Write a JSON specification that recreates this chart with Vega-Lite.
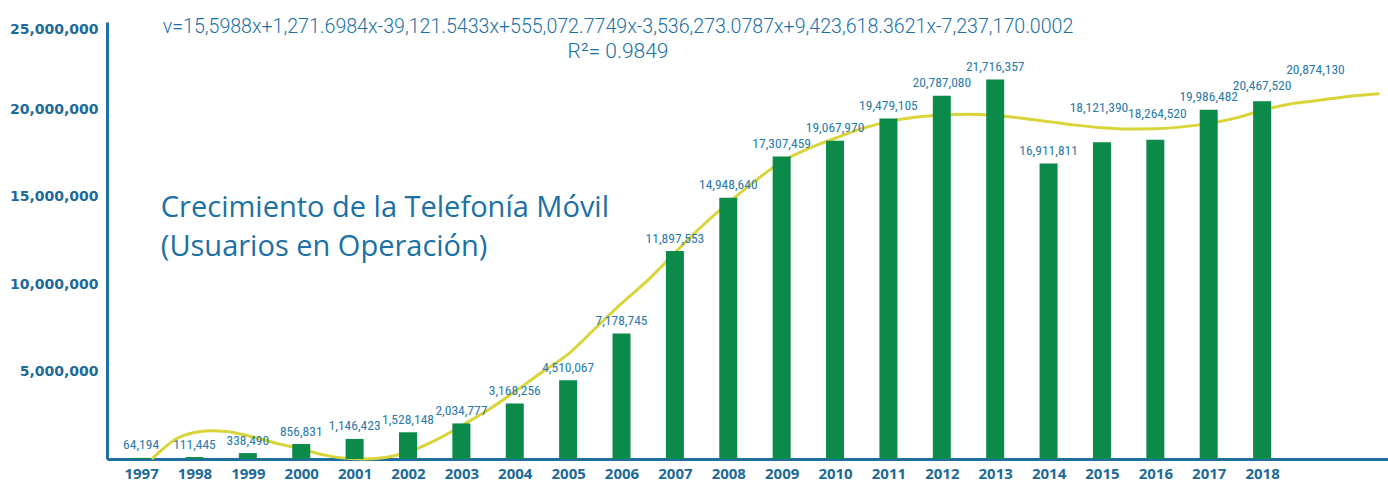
{
  "$schema": "https://vega.github.io/schema/vega-lite/v6.json",
  "width": 1281,
  "height": 437,
  "autosize": "none",
  "padding": {"left": 107, "top": 22, "right": 0, "bottom": 22},
  "background": "white",
  "config": {"view": {"stroke": null}},
  "datasets": {
    "users": [
      {"year": 1997, "users": 64194, "bar": 64194},
      {"year": 1998, "users": 111445, "bar": 111445},
      {"year": 1999, "users": 338490, "bar": 338490},
      {"year": 2000, "users": 856831, "bar": 856831},
      {"year": 2001, "users": 1146423, "bar": 1146423},
      {"year": 2002, "users": 1528148, "bar": 1528148},
      {"year": 2003, "users": 2034777, "bar": 2034777},
      {"year": 2004, "users": 3168256, "bar": 3168256},
      {"year": 2005, "users": 4510067, "bar": 4510067},
      {"year": 2006, "users": 7178745, "bar": 7178745},
      {"year": 2007, "users": 11897553, "bar": 11897553},
      {"year": 2008, "users": 14948640, "bar": 14948640},
      {"year": 2009, "users": 17307459, "bar": 17307459},
      {"year": 2010, "users": 19067970, "bar": 18200000},
      {"year": 2011, "users": 19479105, "bar": 19479105},
      {"year": 2012, "users": 20787080, "bar": 20787080},
      {"year": 2013, "users": 21716357, "bar": 21716357},
      {"year": 2014, "users": 16911811, "bar": 16911811},
      {"year": 2015, "users": 18121390, "bar": 18121390},
      {"year": 2016, "users": 18264520, "bar": 18264520},
      {"year": 2017, "users": 19986482, "bar": 19986482},
      {"year": 2018, "users": 20467520, "bar": 20467520},
      {"year": 2019, "users": 20874130, "bar": null}
    ],
    "trend": [
      {"t": 1997.2, "v": 0},
      {"t": 1997.4, "v": 550000},
      {"t": 1997.6, "v": 1050000},
      {"t": 1997.8, "v": 1350000},
      {"t": 1998.0, "v": 1520000},
      {"t": 1998.3, "v": 1620000},
      {"t": 1998.6, "v": 1580000},
      {"t": 1999.0, "v": 1330000},
      {"t": 1999.3, "v": 1100000},
      {"t": 1999.6, "v": 850000},
      {"t": 2000.0, "v": 580000},
      {"t": 2000.4, "v": 250000},
      {"t": 2000.8, "v": 50000},
      {"t": 2001.2, "v": 0},
      {"t": 2001.6, "v": 100000},
      {"t": 2002.0, "v": 400000},
      {"t": 2002.5, "v": 1050000},
      {"t": 2003.0, "v": 1900000},
      {"t": 2003.5, "v": 2800000},
      {"t": 2004.0, "v": 3850000},
      {"t": 2004.5, "v": 4950000},
      {"t": 2005.0, "v": 6000000},
      {"t": 2005.5, "v": 7450000},
      {"t": 2006.0, "v": 8900000},
      {"t": 2006.5, "v": 10250000},
      {"t": 2007.0, "v": 11800000},
      {"t": 2007.5, "v": 13300000},
      {"t": 2008.0, "v": 14650000},
      {"t": 2008.5, "v": 15900000},
      {"t": 2009.0, "v": 17000000},
      {"t": 2009.5, "v": 17750000},
      {"t": 2010.0, "v": 18350000},
      {"t": 2010.5, "v": 18900000},
      {"t": 2011.0, "v": 19300000},
      {"t": 2011.5, "v": 19550000},
      {"t": 2012.0, "v": 19680000},
      {"t": 2012.5, "v": 19720000},
      {"t": 2013.0, "v": 19650000},
      {"t": 2013.5, "v": 19500000},
      {"t": 2014.0, "v": 19300000},
      {"t": 2014.5, "v": 19100000},
      {"t": 2015.0, "v": 18950000},
      {"t": 2015.5, "v": 18880000},
      {"t": 2016.0, "v": 18900000},
      {"t": 2016.5, "v": 19000000},
      {"t": 2017.0, "v": 19200000},
      {"t": 2017.5, "v": 19500000},
      {"t": 2018.0, "v": 19950000},
      {"t": 2018.5, "v": 20300000},
      {"t": 2019.0, "v": 20500000},
      {"t": 2019.5, "v": 20700000},
      {"t": 2020.0, "v": 20850000},
      {"t": 2020.2, "v": 20900000}
    ]
  },
  "layer": [
    {
      "data": {"name": "trend"},
      "mark": {"type": "line", "color": "#d8d43a", "strokeWidth": 3, "interpolate": "monotone"},
      "encoding": {
        "x": {"field": "t", "type": "quantitative", "scale": {"domain": [1996.455, 2020.265], "nice": false, "zero": false},
          "axis": {"values": [1997, 1998, 1999, 2000, 2001, 2002, 2003, 2004, 2005, 2006, 2007, 2008, 2009, 2010, 2011, 2012, 2013, 2014, 2015, 2016, 2017, 2018],
            "format": "d", "title": null, "grid": false, "ticks": false, "tickSize": 0, "labelFlush": false,
            "labelFont": "Open Sans", "labelFontWeight": "bold", "labelFontSize": 15, "labelColor": "#1d6a9a",
            "labelPadding": 7, "domainColor": "#1d6fa0", "domainWidth": 3, "labelOverlap": false}},
        "y": {"field": "v", "type": "quantitative", "scale": {"domain": [0, 25000000], "nice": false},
          "axis": {"values": [5000000, 10000000, 15000000, 20000000, 25000000], "format": ",.0f",
            "title": null, "grid": false, "ticks": false, "tickSize": 0,
            "labelFont": "DejaVu Sans", "labelFontWeight": "bold", "labelFontSize": 14, "labelColor": "#1d6a9a",
            "labelPadding": 9, "domainColor": "#1d6fa0", "domainWidth": 3,
            "labelBaseline": {"condition": {"test": "datum.value >= 25000000", "value": "top"}, "value": "middle"}}}
      }
    },
    {
      "data": {"name": "users"},
      "transform": [{"filter": "datum.year <= 2018"}],
      "mark": {"type": "bar", "color": "#0b8a4a", "width": 18},
      "encoding": {
        "x": {"field": "year", "type": "quantitative"},
        "y": {"field": "bar", "type": "quantitative"}
      }
    },
    {
      "data": {"name": "users"},
      "transform": [{"filter": "datum.year <= 2014 || datum.year == 2017"}],
      "mark": {"type": "text", "font": "Liberation Sans Narrow, Roboto Condensed, Roboto", "fontSize": 13.5, "color": "#2a7aab", "align": "center", "baseline": "alphabetic", "dy": -8.5},
      "encoding": {
        "x": {"field": "year", "type": "quantitative"},
        "y": {"field": "bar", "type": "quantitative"},
        "text": {"field": "users", "type": "quantitative", "format": ",.0f"}
      }
    },
    {
      "data": {"name": "users"},
      "transform": [{"filter": "datum.year == 2018"}],
      "mark": {"type": "text", "font": "Liberation Sans Narrow, Roboto Condensed, Roboto", "fontSize": 13.5, "color": "#2a7aab", "align": "center", "baseline": "alphabetic", "dy": -11},
      "encoding": {
        "x": {"field": "year", "type": "quantitative"},
        "y": {"field": "bar", "type": "quantitative"},
        "text": {"field": "users", "type": "quantitative", "format": ",.0f"}
      }
    },
    {
      "data": {"name": "users"},
      "transform": [{"filter": "datum.year == 2015"}],
      "mark": {"type": "text", "font": "Liberation Sans Narrow, Roboto Condensed, Roboto", "fontSize": 13.5, "color": "#2a7aab", "align": "center", "baseline": "alphabetic", "dy": -30, "dx": -3},
      "encoding": {
        "x": {"field": "year", "type": "quantitative"},
        "y": {"field": "bar", "type": "quantitative"},
        "text": {"field": "users", "type": "quantitative", "format": ",.0f"}
      }
    },
    {
      "data": {"name": "users"},
      "transform": [{"filter": "datum.year == 2016"}],
      "mark": {"type": "text", "font": "Liberation Sans Narrow, Roboto Condensed, Roboto", "fontSize": 13.5, "color": "#2a7aab", "align": "center", "baseline": "alphabetic", "dy": -22, "dx": 2},
      "encoding": {
        "x": {"field": "year", "type": "quantitative"},
        "y": {"field": "bar", "type": "quantitative"},
        "text": {"field": "users", "type": "quantitative", "format": ",.0f"}
      }
    },
    {
      "data": {"name": "users"},
      "transform": [{"filter": "datum.year == 2019"}],
      "mark": {"type": "text", "font": "Liberation Sans Narrow, Roboto Condensed, Roboto", "fontSize": 13.5, "color": "#2a7aab", "align": "center", "baseline": "alphabetic", "dy": -20},
      "encoding": {
        "x": {"field": "year", "type": "quantitative"},
        "y": {"field": "users", "type": "quantitative"},
        "text": {"field": "users", "type": "quantitative", "format": ",.0f"}
      }
    },
    {
      "data": {"values": [{}]},
      "mark": {"type": "text", "text": ["Crecimiento de la Telefonía Móvil", "(Usuarios en Operación)"], "font": "Open Sans", "fontSize": 29, "color": "#1b70a5", "align": "left", "baseline": "alphabetic", "lineHeight": 39},
      "encoding": {
        "x": {"datum": 1997.37, "type": "quantitative"},
        "y": {"datum": 13840000, "type": "quantitative"}
      }
    },
    {
      "data": {"values": [{}]},
      "mark": {"type": "text", "text": "v=15,5988x+1,271.6984x-39,121.5433x+555,072.7749x-3,536,273.0787x+9,423,618.3621x-7,237,170.0002", "font": "Roboto", "fontWeight": 300, "fontSize": 19.6, "color": "#1b70a5", "align": "center", "baseline": "alphabetic"},
      "encoding": {
        "x": {"datum": 2005.935, "type": "quantitative"},
        "y": {"datum": 24380000, "type": "quantitative"}
      }
    },
    {
      "data": {"values": [{}]},
      "mark": {"type": "text", "text": "R²= 0.9849", "font": "Roboto", "fontWeight": 300, "fontSize": 21, "color": "#1b70a5", "align": "center", "baseline": "alphabetic"},
      "encoding": {
        "x": {"datum": 2005.935, "type": "quantitative"},
        "y": {"datum": 22940000, "type": "quantitative"}
      }
    }
  ]
}
